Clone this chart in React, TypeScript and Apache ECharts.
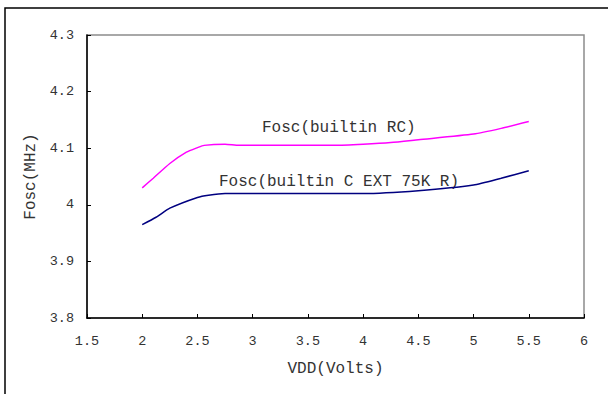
import React, { useEffect, useRef } from "react";
import * as echarts from "echarts";

const rcX = [2.0, 2.1, 2.25, 2.4, 2.5, 2.56, 2.75, 2.875, 3.75, 4.0, 4.25, 4.5, 5.0, 5.25, 5.5];
const rcY = [4.03, 4.047, 4.073, 4.093, 4.101, 4.105, 4.107, 4.105, 4.105, 4.107, 4.11, 4.115, 4.125, 4.135, 4.147];
const extX = [2.0, 2.125, 2.25, 2.5, 2.6, 2.75, 4.0, 4.5, 5.0, 5.25, 5.5];
const extY = [3.965, 3.978, 3.994, 4.013, 4.017, 4.02, 4.02, 4.025, 4.035, 4.047, 4.06];
const rcName = "Fosc(builtin RC)";
const extName = "Fosc(builtin C EXT 75K R)";

const FONT = "Liberation Mono";

export default function App() {
  const ref = useRef<HTMLDivElement>(null);
  useEffect(() => {
    const chart = echarts.init(ref.current!, null, { renderer: "svg" });
    chart.setOption({
      animation: false,
      backgroundColor: "#fff",
      grid: {
        left: 87,
        right: 24,
        top: 35,
        bottom: 76,
        show: true,
        borderColor: "#8c8c8c",
        borderWidth: 1.5,
      },
      xAxis: {
        type: "value",
        min: 1.5,
        max: 6,
        interval: 0.5,
        name: "VDD(Volts)",
        nameLocation: "middle",
        nameGap: 43,
        nameTextStyle: { fontFamily: FONT, fontSize: 16, color: "#333" },
        axisLine: { show: true, lineStyle: { color: "#000", width: 1.5 } },
        axisTick: { show: true, inside: true, length: 4, lineStyle: { color: "#000" } },
        axisLabel: { fontFamily: FONT, fontSize: 13.5, color: "#333", margin: 16 },
        splitLine: { show: false },
      },
      yAxis: {
        type: "value",
        min: 3.8,
        max: 4.3,
        interval: 0.1,
        name: "Fosc(MHz)",
        nameLocation: "middle",
        nameGap: 45,
        nameRotate: 90,
        nameTextStyle: { fontFamily: FONT, fontSize: 16, color: "#333" },
        axisLine: { show: true, lineStyle: { color: "#000", width: 1.5 } },
        axisTick: { show: true, inside: true, length: 4, lineStyle: { color: "#000" } },
        axisLabel: {
          fontFamily: FONT,
          fontSize: 13.5,
          color: "#333",
          margin: 13,
          formatter: (v: number) => String(Math.round(v * 10) / 10),
        },
        splitLine: { show: false },
      },
      graphic: [
        {
          type: "rect",
          shape: { x: 5, y: 8, width: 800, height: 600 },
          style: { fill: "none", stroke: "#000", lineWidth: 1.5 },
          silent: true,
        },
        {
          type: "text",
          left: 262,
          top: 120,
          style: { text: rcName, fontFamily: FONT, fontSize: 16, fill: "#333" },
        },
        {
          type: "text",
          left: 219,
          top: 174,
          style: { text: extName, fontFamily: FONT, fontSize: 16, fill: "#333" },
        },
      ],
      series: [
        {
          name: rcName,
          type: "line",
          data: rcX.map((x, i) => [x, rcY[i]]),
          showSymbol: false,
          smooth: 0.2,
          lineStyle: { color: "#ff00ff", width: 1.5 },
        },
        {
          name: extName,
          type: "line",
          data: extX.map((x, i) => [x, extY[i]]),
          showSymbol: false,
          smooth: 0.2,
          lineStyle: { color: "#000080", width: 1.5 },
        },
      ],
    });
    return () => chart.dispose();
  }, []);
  return <div ref={ref} style={{ width: 608, height: 394, position: "absolute", left: 0, top: 0 }} />;
}
